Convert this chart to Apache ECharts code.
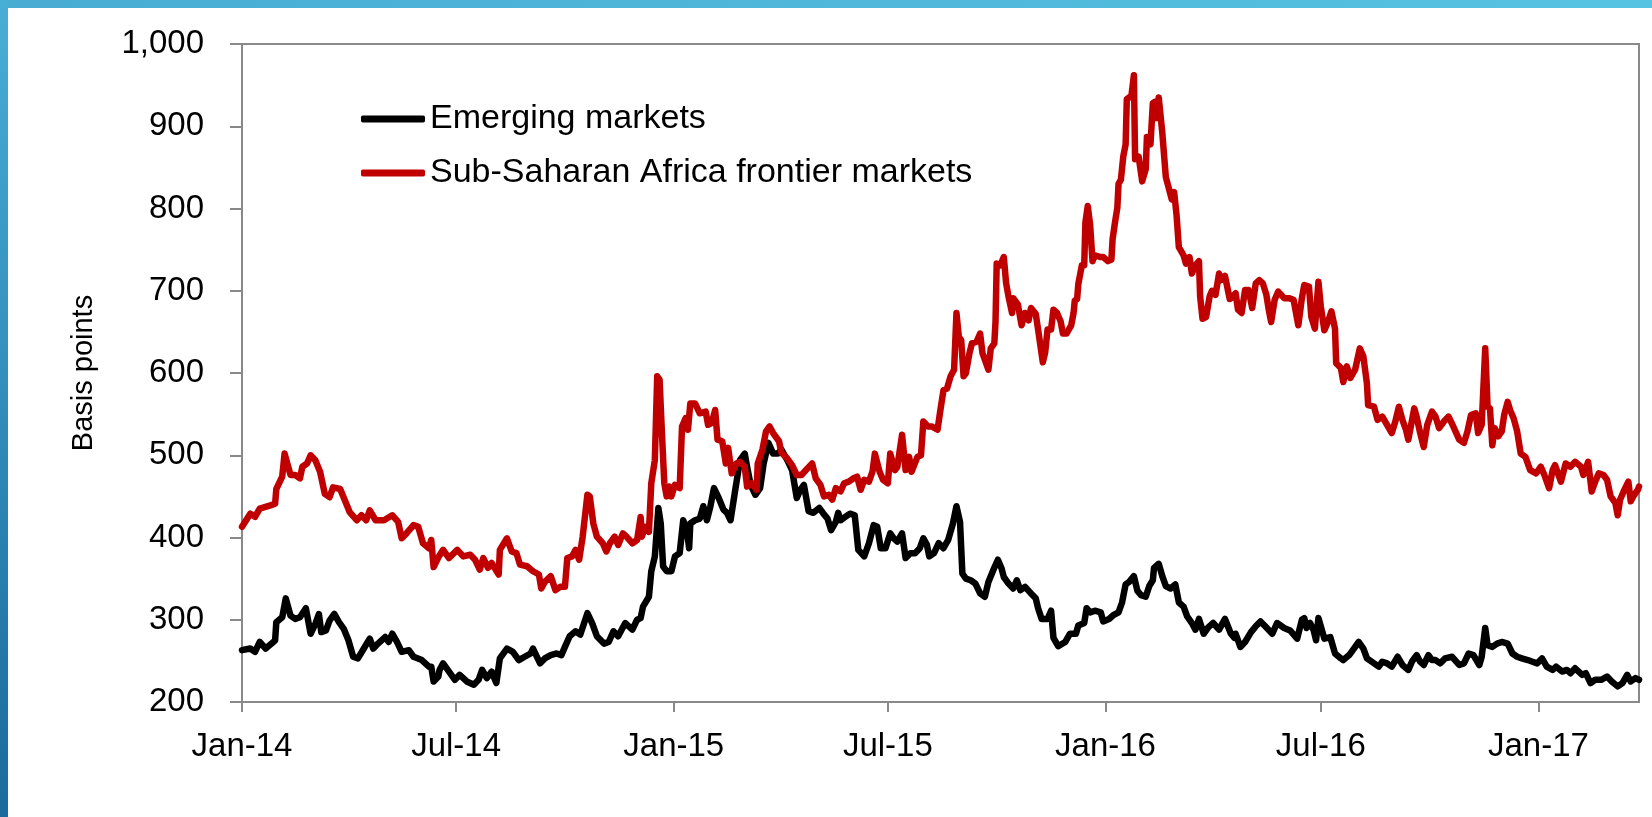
<!DOCTYPE html>
<html lang="en" style="height: 100%">

<head>
  <meta charset="utf-8">
</head>

<body style="height: 100%; margin: 0; background: #ffffff">
<div id="container" style="height: 100%"></div>
<script type="text/javascript" src="https://cdn.jsdelivr.net/npm/echarts@6.0.0/dist/echarts.min.js"></script>

<script type="text/javascript">
  // x values are days counted from 1 Jan 2014
  var emDays = [
    0, 7, 11, 15, 20, 25, 28, 29, 34, 37, 41, 45, 49, 54, 58, 62, 65, 67, 71, 74,
    78, 82, 86, 90, 94, 98, 103, 108, 111, 115, 121, 124, 127, 131, 135, 141, 145, 152, 158, 160,
    162, 166,
    167, 170, 175, 180, 184, 190, 196, 200, 203, 207, 211, 215, 218, 224, 229, 234, 239, 244, 246, 252,
    256, 261, 266, 270, 273, 277, 282, 286, 292, 296, 300, 306, 310, 314, 318, 324, 330, 334,
    337, 339, 344, 346, 349, 352, 354, 356, 359, 363, 366, 370, 373, 376, 378, 379, 383, 387, 390, 393,
    396, 399, 403, 407, 410, 413, 417, 421, 425, 427, 430, 434, 438, 441, 445, 449, 453, 456, 461, 465,
    469, 472, 475, 479, 483, 488, 492, 495, 498, 502, 504,
    506, 510, 514, 518, 521, 526, 530, 534, 537, 540, 544, 548, 551, 554, 558, 561, 565, 569, 573, 576,
    579, 581, 585, 589, 593, 597, 601, 604, 607, 609, 612, 616, 620, 624, 628, 631, 635, 639, 642, 644,
    648, 652, 655, 658, 662, 667,
    671, 673, 676, 681, 684, 686, 690, 696, 700, 705, 707, 712, 714, 717, 721, 726, 728, 733, 737, 741,
    744, 747, 750, 754, 757, 760, 764, 767, 770, 771, 775, 778, 781, 785, 789, 792, 796, 799, 803, 806,
    809, 813, 817, 821, 826, 831, 836, 839,
    840, 844, 848, 853, 857, 861, 865, 871, 875, 881, 886, 892, 896, 898, 900, 903, 906, 908, 910, 913,
    915, 920, 924, 929, 931, 936, 940, 944, 948, 951, 955, 961, 964, 968, 972, 977, 981, 986, 989, 993,
    996, 999, 1003, 1006,
    1009, 1013, 1017, 1023, 1029, 1033, 1037, 1041, 1046, 1048, 1051, 1053, 1057, 1061, 1065, 1070, 1074, 1078, 1082, 1087,
    1091, 1095, 1099, 1103, 1108, 1111, 1116, 1120, 1123, 1127, 1133, 1136, 1140, 1144, 1149, 1154, 1158, 1163, 1167, 1171,
    1174, 1178, 1181
  ];
  var emValues = [
    263, 265, 261, 273, 265, 271, 275, 297, 303, 326, 305, 301, 303, 314, 283, 295, 307, 285, 287, 299,
    307, 297, 289, 275, 255, 253, 265, 277, 265, 271, 279, 273, 283, 273, 261, 263, 255, 251, 243, 243,
    225, 231,
    239, 247, 237, 227, 233, 225, 221, 227, 239, 229, 237, 223, 253, 265, 261, 251, 255, 259, 265, 247,
    253, 257, 259, 257, 267, 280, 286, 282, 308, 296, 280, 271, 273, 286, 280, 296, 288, 300,
    302, 316, 328, 359, 377, 436, 417, 365, 359, 359, 377, 381, 421, 409, 387, 417, 421, 423, 438, 421,
    438, 460, 448, 434, 430, 421, 458, 494, 502, 486, 464, 452, 460, 490, 515, 502, 502, 507, 494, 482,
    448, 458, 464, 432, 430, 436, 428, 423, 409, 419, 430,
    421, 425, 429, 427, 385, 377, 393, 415, 413, 387, 387, 405, 399, 395, 405, 375, 381, 381, 387, 399,
    391, 377, 381, 393, 387, 397, 417, 438, 419, 356, 350, 348, 344, 332, 328, 346, 360, 373, 363, 352,
    344, 338, 348, 336, 340, 332,
    326, 314, 301, 301, 311, 278, 268, 273, 283, 283, 293, 296, 314, 309, 311, 309, 298, 301, 306, 309,
    321, 343, 346, 353, 335, 330, 328, 341, 348, 363, 368, 353, 341, 338, 343, 321, 316, 304, 296, 288,
    301, 283, 291, 296, 288, 301, 283, 278,
    283, 267, 273, 285, 292, 298, 292, 283, 296, 290, 287, 277, 300, 302, 290, 296, 287, 275, 302, 287,
    277, 279, 259, 253, 251, 257, 265, 273, 265, 253, 249, 243, 249, 247, 243, 255, 245, 239, 249, 257,
    249, 245, 257, 251,
    251, 247, 253, 255, 245, 247, 259, 257, 245, 255, 290, 269, 267, 271, 273, 271, 259, 255, 253, 251,
    249, 247, 253, 243, 239, 243, 237, 239, 235, 241, 233, 235, 223, 227, 227, 231, 225, 219, 223, 233,
    225, 229, 227
  ];

  var ssaDays = [
    0, 7, 11, 15, 24, 28, 29, 34, 36, 41, 45, 49, 51, 55, 58, 62, 66, 70, 74, 77,
    83, 87, 91, 97, 101, 105, 108, 113, 120, 127, 132, 135, 139, 145, 149, 153, 158, 160, 162, 166,
    167, 170, 175, 182, 187, 193, 197, 201, 204, 208, 211, 217, 218, 224, 228, 232, 235, 241, 246, 251,
    253, 256, 261, 265, 269, 273, 275, 279, 282, 285, 288, 292, 294, 297, 300, 305, 308, 311, 315, 318,
    322, 325, 330, 334,
    337, 338, 341, 344, 346, 349, 351, 353, 355, 357, 359, 361, 363, 366, 370, 372, 375, 377, 379, 383,
    387, 392, 394, 397, 400, 402, 406, 409, 411, 414, 418, 421, 425, 427, 431, 435, 436, 440, 443, 446,
    449, 454, 456, 461, 465, 469, 473, 478, 482, 485, 489, 492, 496, 499, 502,
    506, 509, 513, 517, 520, 523, 526, 530, 533, 535, 539, 542, 546, 548, 552, 554, 558, 561, 564, 566,
    571, 574, 576, 580, 583, 588, 590, 593, 596, 599, 602, 604, 606, 608, 610, 612, 615, 617, 621, 624,
    626, 631, 633, 636, 637, 638, 641, 644, 646, 648, 651, 652, 656, 659, 662, 665, 667,
    671, 673, 677, 679, 681, 684, 686, 689, 692, 694, 697, 701, 703, 704, 706, 707, 710, 712, 713, 715,
    717, 719, 721, 726, 728, 732, 735, 736, 738, 740, 741, 743, 745, 747, 748, 750, 752, 754, 755, 758,
    761, 764, 765, 768, 770, 772, 773, 775, 778, 781, 784, 786, 788, 790, 792, 796, 798, 801, 803, 806,
    809, 810, 812, 815, 818, 820, 823, 826, 828, 831, 835, 838,
    840, 842, 845, 848, 851, 854, 857, 860, 863, 866, 868, 870, 873, 876, 881, 885, 889, 893, 896, 898,
    902, 904, 907, 910, 912, 915, 918, 921, 924, 925, 929, 931, 934, 937, 941, 945, 948, 951, 952, 957,
    960, 964, 968, 972, 975, 978, 981, 984, 986, 991, 993, 996, 999, 1002, 1006,
    1009, 1012, 1016, 1020, 1024, 1029, 1033, 1036, 1039, 1043, 1045, 1048, 1051, 1053, 1055, 1057, 1059, 1062, 1065, 1067,
    1070, 1072, 1075, 1078, 1081, 1085, 1089, 1094, 1098, 1101, 1105, 1108, 1110, 1115, 1119, 1123, 1127, 1132, 1134, 1138,
    1141, 1144, 1147, 1151, 1154, 1157, 1161, 1163, 1165, 1168, 1172, 1174, 1177, 1180, 1181
  ];
  var ssaValues = [
    413, 429, 425, 435, 439, 441, 459, 474, 502, 476, 476, 472, 486, 490, 500, 494, 480, 453, 449, 461,
    459, 445, 431, 421, 427, 421, 433, 421, 421, 427, 419, 399, 405, 415, 413, 393, 387, 397, 364, 376,
    377, 385, 375, 385, 377, 379, 373, 361, 375, 363, 369, 355, 385, 399, 383, 381, 367, 365, 359, 355,
    338, 346, 353, 336, 340, 340, 375, 377, 385, 373, 401, 452, 450, 417, 401, 393, 383, 393, 401, 391,
    405, 401, 393, 397,
    425, 401, 413, 407, 466, 494, 596, 592, 527, 466, 450, 462, 450, 464, 460, 535, 545, 531, 563, 563,
    551, 553, 537, 539, 555, 519, 517, 490, 509, 478, 490, 492, 486, 462, 466, 458, 490, 507, 529, 535,
    527, 517, 503, 496, 488, 476, 476, 484, 490, 472, 464, 450, 452, 446, 460,
    456, 466, 468, 472, 474, 458, 470, 468, 480, 502, 480, 470, 466, 502, 482, 486, 525, 482, 498, 480,
    498, 500, 541, 535, 535, 531, 551, 579, 581, 596, 604, 673, 644, 640, 596, 600, 624, 636, 638, 648,
    624, 604, 630, 636, 662, 733, 731, 741, 709, 693, 673, 691, 683, 658, 673, 664, 679,
    672, 653, 613, 625, 653, 653, 677, 673, 663, 648, 648, 658, 673, 688, 690, 708, 731, 731, 783, 803,
    780, 736, 743, 741, 741, 736, 738, 763, 783, 801, 830, 835, 863, 878, 933, 935, 938, 962, 860, 863,
    833, 848, 887, 878, 928, 930, 910, 935, 892, 838, 822, 811, 820, 793, 753, 743, 733, 741, 721, 731,
    736, 693, 666, 668, 693, 700, 695, 721, 713, 718, 690, 693,
    697, 677, 673, 701, 701, 679, 709, 713, 709, 695, 677, 662, 689, 699, 691, 691, 689, 658, 691, 707,
    705, 668, 654, 711, 681, 652, 662, 675, 654, 612, 606, 589, 608, 594, 604, 630, 620, 587, 561, 559,
    543, 547, 537, 527, 541, 559, 543, 531, 519, 557, 547, 527, 510, 537, 553,
    547, 533, 541, 547, 535, 519, 515, 529, 549, 551, 527, 537, 630, 559, 557, 512, 533, 523, 529, 549,
    565, 555, 545, 529, 502, 498, 482, 478, 486, 476, 460, 482, 488, 468, 490, 486, 492, 486, 476, 492,
    456, 468, 478, 476, 470, 450, 442, 427, 446, 456, 468, 444, 452, 458, 462
  ];

  // axis ticks: 1 Jan and 1 Jul of each year, as day offsets from 1 Jan 2014
  var tickDays = [0, 181, 365, 546, 730, 912, 1096];
  var tickLabels = ['Jan-14', 'Jul-14', 'Jan-15', 'Jul-15', 'Jan-16', 'Jul-16', 'Jan-17'];
  var lastDay = 1181;
  var yMin = 200, yMax = 1000, yStep = 100;

  function toPoints(days, values) {
    var pts = [];
    for (var i = 0; i < Math.min(days.length, values.length); i++) {
      pts.push([days[i], values[i]]);
    }
    return pts;
  }

  var font = "'Liberation Sans', Arial, sans-serif";
  var axisGrey = '#898989';

  var dom = document.getElementById('container');
  var myChart = echarts.init(dom, null, { renderer: 'canvas' });

  var option = {
    animation: false,
    backgroundColor: '#ffffff',
    graphic: [
      {
        type: 'rect',
        shape: { x: 0, y: 0, width: 1652, height: 8 },
        style: {
          fill: new echarts.graphic.LinearGradient(0, 0, 1, 0, [
            { offset: 0, color: '#48acd3' },
            { offset: 1, color: '#57c3e2' }
          ])
        },
        z: 100
      },
      {
        type: 'rect',
        shape: { x: 0, y: 0, width: 8, height: 817 },
        style: {
          fill: new echarts.graphic.LinearGradient(0, 0, 0, 1, [
            { offset: 0, color: '#49aed5' },
            { offset: 1, color: '#1a6a9e' }
          ])
        },
        z: 100
      }
    ],
    grid: {
      left: 242,
      right: 13,
      top: 44,
      bottom: 115,
      show: true,
      borderColor: axisGrey,
      borderWidth: 2,
      outerBoundsMode: 'none'
    },
    legend: {
      orient: 'vertical',
      left: 356,
      top: 97,
      itemWidth: 64,
      itemHeight: 7,
      itemGap: 20,
      icon: 'roundRect',
      textStyle: { fontFamily: font, fontSize: 34, color: '#000' },
      data: ['Emerging markets', 'Sub-Saharan Africa frontier markets']
    },
    xAxis: {
      type: 'value',
      min: 0,
      max: lastDay,
      splitLine: { show: false },
      axisLine: { show: true, onZero: false, lineStyle: { color: axisGrey, width: 2 } },
      axisTick: {
        show: true,
        length: 10,
        customValues: tickDays,
        lineStyle: { color: axisGrey, width: 2 }
      },
      axisLabel: {
        customValues: tickDays,
        margin: 28,
        fontFamily: font,
        fontSize: 33,
        color: '#000',
        formatter: function (value) {
          var i = tickDays.indexOf(value);
          return i >= 0 ? tickLabels[i] : '';
        }
      }
    },
    yAxis: {
      type: 'value',
      min: yMin,
      max: yMax,
      interval: yStep,
      name: 'Basis points',
      nameLocation: 'middle',
      nameRotate: 90,
      nameGap: 144,
      nameTextStyle: { fontFamily: font, fontSize: 29, color: '#000' },
      splitLine: { show: false },
      axisLine: { show: true, lineStyle: { color: axisGrey, width: 2 } },
      axisTick: { show: true, length: 12, lineStyle: { color: axisGrey, width: 2 } },
      axisLabel: {
        margin: 38,
        fontFamily: font,
        fontSize: 33,
        color: '#000',
        formatter: function (v) {
          return String(v).replace(/\B(?=(\d{3})+(?!\d))/g, ',');
        }
      }
    },
    series: [
      {
        name: 'Emerging markets',
        type: 'line',
        symbol: 'none',
        showSymbol: false,
        data: toPoints(emDays, emValues),
        itemStyle: { color: '#000000' },
        lineStyle: { color: '#000000', width: 6.5, cap: 'round', join: 'round' }
      },
      {
        name: 'Sub-Saharan Africa frontier markets',
        type: 'line',
        symbol: 'none',
        showSymbol: false,
        data: toPoints(ssaDays, ssaValues),
        itemStyle: { color: '#c00000' },
        lineStyle: { color: '#c00000', width: 6.5, cap: 'round', join: 'round' }
      }
    ]
  };

  myChart.setOption(option);
  window.addEventListener('resize', myChart.resize);
</script>
</body>

</html>
